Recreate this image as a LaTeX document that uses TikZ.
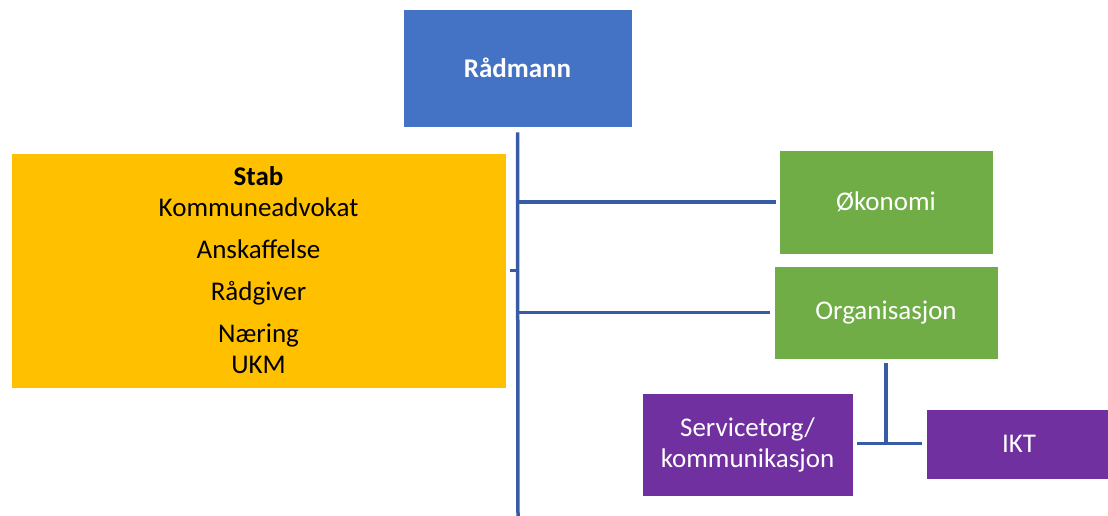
\documentclass[tikz,border=0pt]{standalone}
\usepackage{fontspec}
\setmainfont{Carlito}
\usepackage{tikz}
\usetikzlibrary{positioning}

\definecolor{radblue}{HTML}{4472C4}
\definecolor{stabgold}{HTML}{FFC000}
\definecolor{enhgreen}{HTML}{70AD47}
\definecolor{avdpurple}{HTML}{7030A0}
\definecolor{linkblue}{RGB}{55,92,165}

\tikzset{
    unit/.style = {draw=white, line width=0.6pt, inner sep=0pt, align=center,
                   font=\fontsize{27}{31}\selectfont},
    topunit/.style = {unit, fill=radblue, text=white, font=\fontsize{27}{31}\selectfont\bfseries},
    stabunit/.style = {unit, fill=stabgold, text=black},
    mainunit/.style = {unit, fill=enhgreen, text=white},
    subunit/.style = {unit, fill=avdpurple, text=white},
    link/.style = {draw=linkblue, line width=3.5pt}
}

\begin{document}
\begin{tikzpicture}[x=1pt, y=-1pt]

            \useasboundingbox (0,0) rectangle (1108,515);

            \node[topunit, minimum width=229, minimum height=118] (rad) at (517.5,68) {Rådmann};

            \node[stabunit, minimum width=495, minimum height=235] (stab) at (258.5,270.5)
                {\textbf{Stab}\\Kommuneadvokat\\[11pt]Anskaffelse\\[11pt]Rådgiver\\[11pt]Næring\\UKM};

            \node[mainunit, minimum width=214, minimum height=104] (oko) at (886,202) {Økonomi};
            \node[mainunit, minimum width=224, minimum height=93] (org) at (886,312.5) {Organisasjon};

            \node[subunit, minimum width=211, minimum height=103] (serv) at (747.5,444.5) {Servicetorg/\\kommunikasjon};
            \node[subunit, minimum width=186, minimum height=70] (ikt) at (1019,444) {IKT};

            \coordinate (trunkend) at (518,518);

            % trunk and branches
            \draw[link] ([yshift=-5]rad.south) -- (trunkend);
            \draw[link] (rad.south |- oko.west) -- ([xshift=-3]oko.west);
            \draw[link] (rad.south |- org.west) -- ([xshift=-4]org.west);
            \draw[link] (rad.south |- stab.east) -- ([xshift=4]stab.east);

            \draw[link] ([yshift=-4]org.south) -- ++(0,80) coordinate (fork);
            \draw[link] ([xshift=4]serv.east |- fork) -- ([xshift=-4]ikt.west |- fork);

\end{tikzpicture}
\end{document}
